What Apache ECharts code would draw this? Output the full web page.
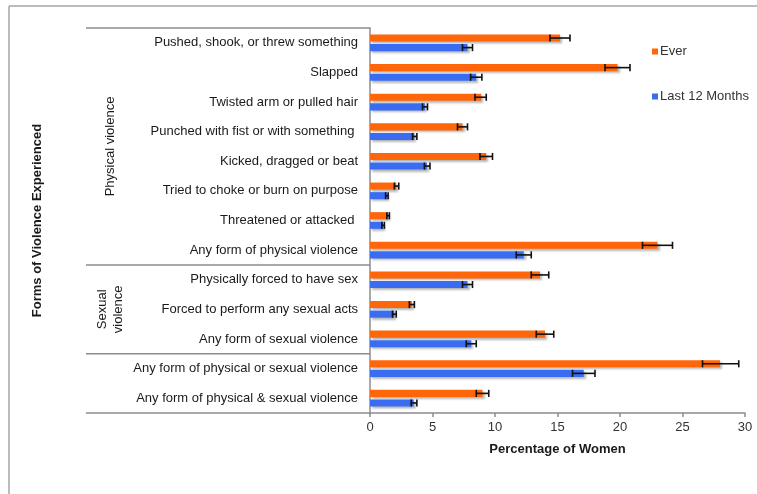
<!DOCTYPE html>
<html>
<head>
<meta charset="utf-8">
<script src="https://cdn.jsdelivr.net/npm/echarts@6/dist/echarts.min.js"></script>
<style>
html,body{margin:0;padding:0;background:#fff;}
#chart{width:757px;height:494px;}
</style>
</head>
<body>
<div id="chart"></div>
<script>
const categories = [
  'Pushed, shook, or threw something',
  'Slapped',
  'Twisted arm or pulled hair',
  'Punched with fist or with something ',
  'Kicked, dragged or beat',
  'Tried to choke or burn on purpose',
  'Threatened or attacked ',
  'Any form of physical violence',
  'Physically forced to have sex',
  'Forced to perform any sexual acts',
  'Any form of sexual violence',
  'Any form of physical or sexual violence',
  'Any form of physical & sexual violence'
];
const everValues = [15.2, 19.8, 8.9, 7.4, 9.3, 2.1, 1.45, 23.0, 13.6, 3.35, 14.0, 28.0, 9.0];
const everLow    = [14.4, 18.8, 8.4, 7.0, 8.8, 1.95, 1.35, 21.8, 12.9, 3.15, 13.3, 26.6, 8.5];
const everHigh   = [16.0, 20.8, 9.3, 7.8, 9.8, 2.3, 1.55, 24.2, 14.3, 3.55, 14.7, 29.5, 9.5];
const lastValues = [7.8, 8.5, 4.4, 3.55, 4.55, 1.35, 1.05, 12.3, 7.8, 1.95, 8.1, 17.1, 3.5];
const lastLow    = [7.4, 8.05, 4.2, 3.4, 4.35, 1.25, 0.95, 11.7, 7.4, 1.8, 7.7, 16.2, 3.3];
const lastHigh   = [8.2, 8.95, 4.6, 3.75, 4.8, 1.45, 1.15, 12.9, 8.2, 2.1, 8.5, 18.0, 3.75];
const xTicks = [0, 5, 10, 15, 20, 25, 30];
const groups = [
  {name: 'Physical violence', from: 0, to: 7},
  {name: 'Sexual\nviolence', from: 8, to: 10},
  {name: '', from: 11, to: 12}
];
const seriesNames = ['Ever', 'Last 12 Months'];
const colors = ['#FF660A', '#3A6CF2'];

const FONT = "'Liberation Sans', Arial, sans-serif";
const BAR_W = 0.24, BAR_GAP = 0.35;

const chart = echarts.init(document.getElementById('chart'));

function errData(lo, hi) {
  return lo.map((l, i) => [i, l, hi[i]]);
}
function errSeries(lo, hi, sign) {
  return {
    type: 'custom',
    z: 5,
    silent: true,
    encode: {y: 0, x: [1, 2]},
    data: errData(lo, hi),
    renderItem: function (params, api) {
      const cat = api.value(0);
      const p1 = api.coord([api.value(1), cat]);
      const p2 = api.coord([api.value(2), cat]);
      const band = api.size([0, 1])[1];
      const w = band * BAR_W;
      const off = sign * (w + w * BAR_GAP) / 2;
      const y = p1[1] + off;
      const h = w / 2;
      const st = {stroke: '#111', lineWidth: 1.6};
      return {
        type: 'group',
        children: [
          {type: 'line', shape: {x1: p1[0], y1: y, x2: p2[0], y2: y}, style: st},
          {type: 'line', shape: {x1: p1[0], y1: y - h, x2: p1[0], y2: y + h}, style: st},
          {type: 'line', shape: {x1: p2[0], y1: y - h, x2: p2[0], y2: y + h}, style: st}
        ]
      };
    }
  };
}

const barShadow = {shadowColor: 'rgba(0,0,0,0.28)', shadowBlur: 2, shadowOffsetX: 2, shadowOffsetY: 2};

const option = {
  animation: false,
  textStyle: {fontFamily: FONT},
  legend: {
    orient: 'vertical',
    left: 647,
    top: 40,
    itemGap: 32,
    itemWidth: 6,
    itemHeight: 6,
    icon: 'rect',
    data: seriesNames,
    textStyle: {fontSize: 13, color: '#333', fontFamily: FONT, padding: [0, 0, 0, -3]}
  },
  grid: {left: 370, right: 12, top: 28, bottom: 81, outerBoundsMode: 'none'},
  xAxis: {
    type: 'value',
    min: 0, max: 30, interval: 5,
    name: 'Percentage of Women',
    nameLocation: 'middle',
    nameGap: 30,
    nameTextStyle: {fontSize: 13, fontWeight: 'bold', color: '#1a1a1a', fontFamily: FONT},
    axisLine: {show: true, lineStyle: {color: '#8c8c8c', width: 1.5}},
    axisTick: {show: true, length: 4, lineStyle: {color: '#8c8c8c', width: 1.5}},
    axisLabel: {fontSize: 13, color: '#333', margin: 8, fontFamily: FONT,
      formatter: v => xTicks.includes(v) ? String(v) : ''},
    splitLine: {show: false}
  },
  yAxis: {
    type: 'category',
    inverse: true,
    data: categories,
    name: 'Forms of Violence Experienced',
    nameLocation: 'middle',
    nameGap: 326,
    nameRotate: 90,
    nameTextStyle: {fontSize: 13, fontWeight: 'bold', color: '#1a1a1a', fontFamily: FONT},
    axisLine: {show: true, lineStyle: {color: '#8c8c8c', width: 1.5}},
    axisTick: {show: false},
    axisLabel: {fontSize: 13, color: '#1a1a1a', margin: 12, fontFamily: FONT},
    splitLine: {show: false}
  },
  series: [
    {name: seriesNames[0], type: 'bar', data: everValues, barWidth: (BAR_W * 100) + '%', barGap: (BAR_GAP * 100) + '%',
     itemStyle: Object.assign({color: colors[0]}, barShadow)},
    {name: seriesNames[1], type: 'bar', data: lastValues, barWidth: (BAR_W * 100) + '%', barGap: (BAR_GAP * 100) + '%',
     itemStyle: Object.assign({color: colors[1]}, barShadow)},
    errSeries(everLow, everHigh, -1),
    errSeries(lastLow, lastHigh, 1)
  ]
};
chart.setOption(option);

// group separators and labels from the axis scale
const y0 = chart.convertToPixel({yAxisIndex: 0}, 0);
const y1 = chart.convertToPixel({yAxisIndex: 0}, 1);
const half = (y1 - y0) / 2;
const axisX = chart.convertToPixel({xAxisIndex: 0}, 0);
const lineStyle = {stroke: '#8c8c8c', lineWidth: 1.5};
const graphics = [];
const bounds = new Set();
groups.forEach(g => {
  const top = chart.convertToPixel({yAxisIndex: 0}, g.from) - half;
  const bot = chart.convertToPixel({yAxisIndex: 0}, g.to) + half;
  bounds.add(Math.round(top * 10) / 10);
  bounds.add(Math.round(bot * 10) / 10);
  if (g.name) {
    graphics.push({
      type: 'text', x: 110, y: (top + bot) / 2, rotation: Math.PI / 2,
      style: {text: g.name, fontSize: 13, fill: '#1a1a1a', font: '13px ' + FONT,
        align: 'center', verticalAlign: 'middle', lineHeight: 16}
    });
  }
});
bounds.forEach(b => {
  graphics.push({type: 'line', shape: {x1: 86, y1: b, x2: axisX, y2: b}, style: lineStyle, z: 10});
});
// outer frame
graphics.push({type: 'line', shape: {x1: 9, y1: 6, x2: 757, y2: 6}, style: {stroke: '#a6a6a6', lineWidth: 1.5}});
graphics.push({type: 'line', shape: {x1: 9, y1: 6, x2: 9, y2: 494}, style: {stroke: '#a6a6a6', lineWidth: 1.5}});
chart.setOption({graphic: graphics});
</script>
</body>
</html>
